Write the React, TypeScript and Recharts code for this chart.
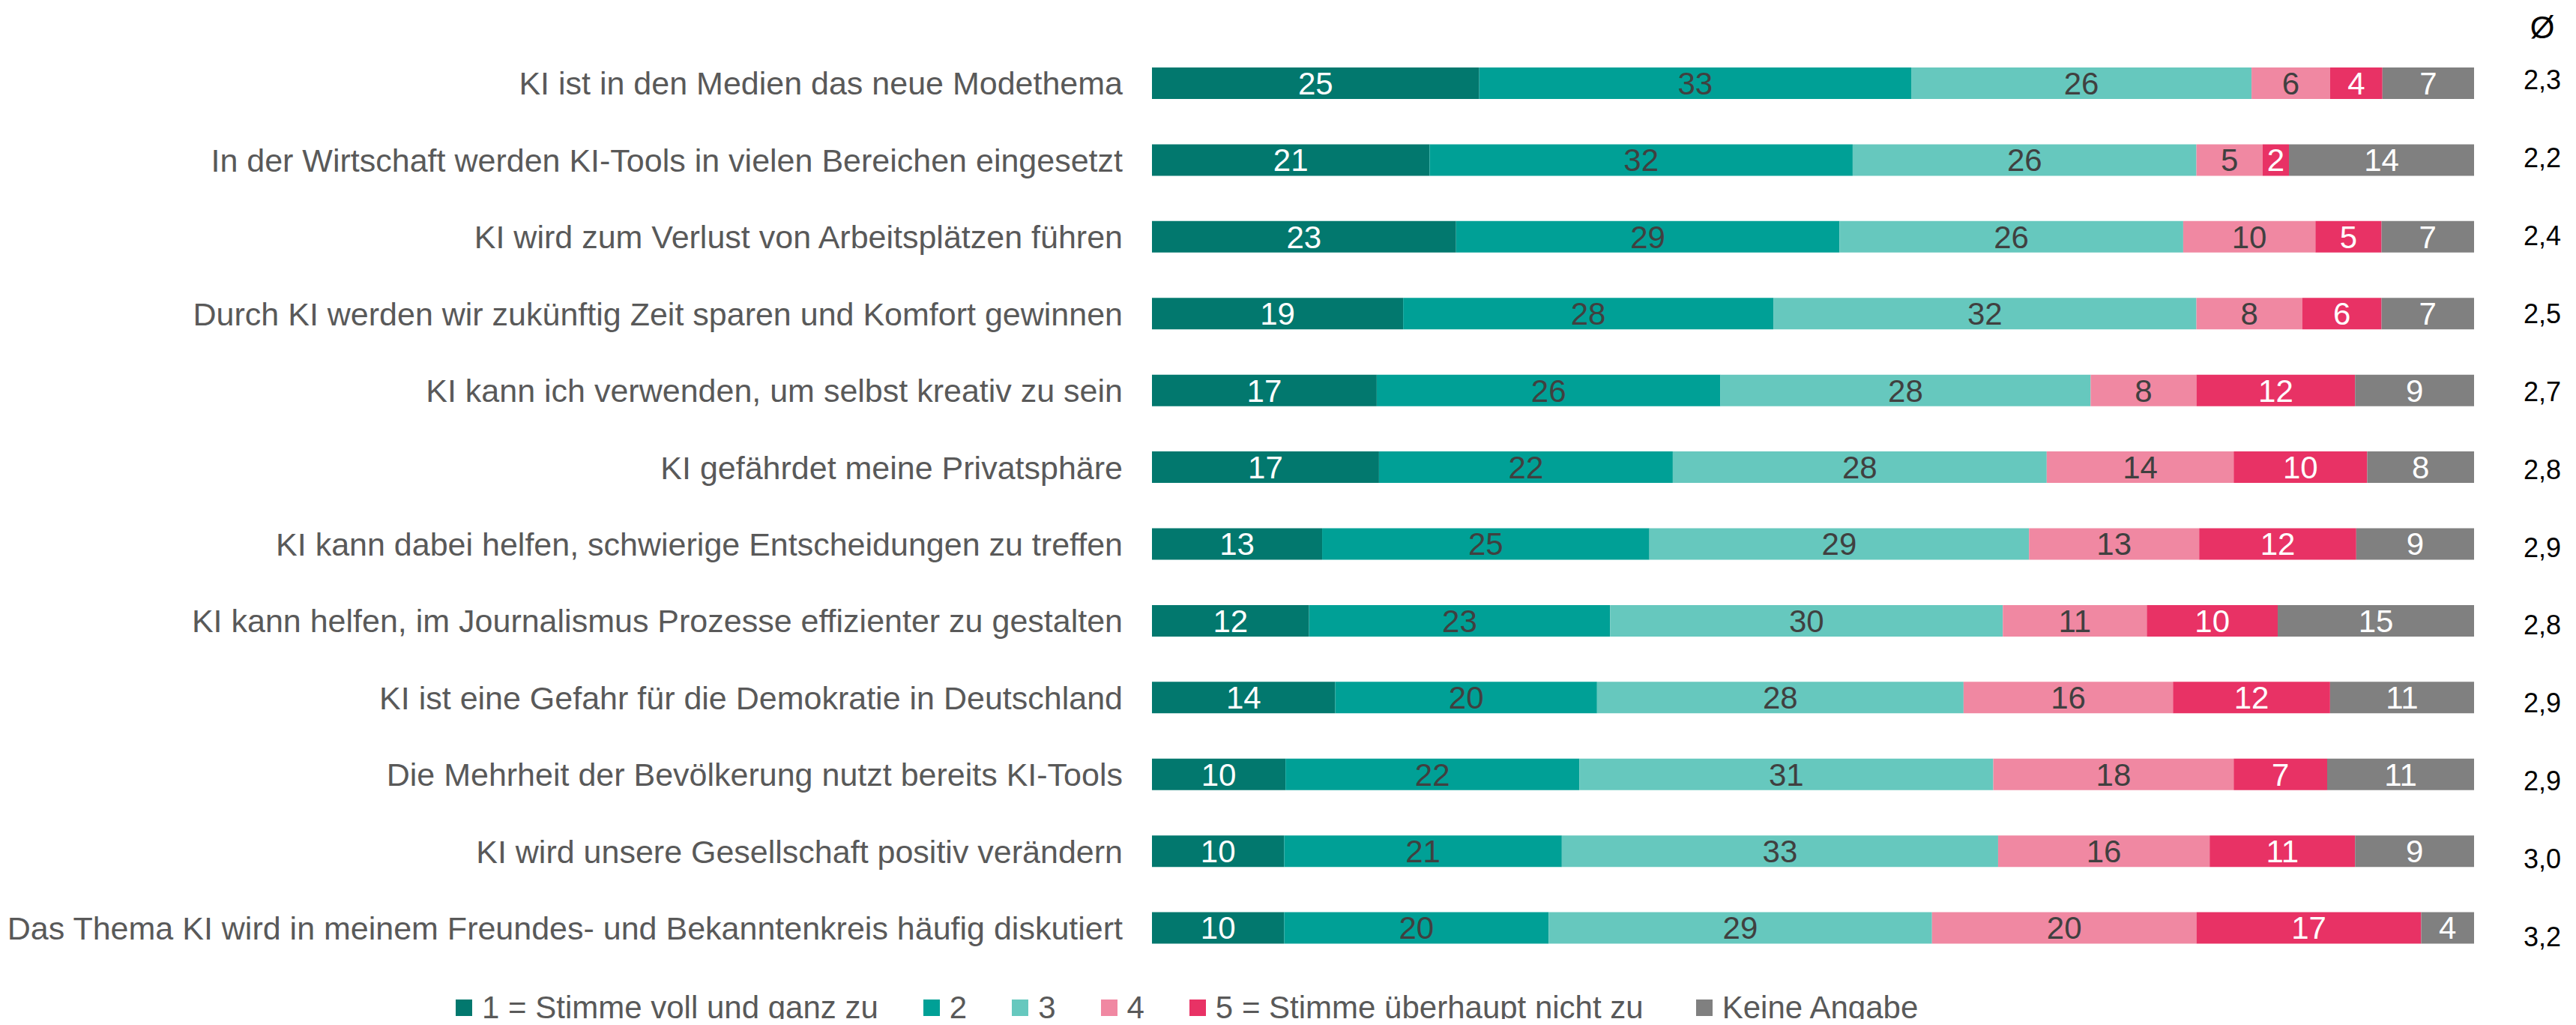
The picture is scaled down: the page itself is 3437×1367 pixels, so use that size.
import React from 'react';
import { BarChart, Bar, XAxis, YAxis, LabelList, Legend } from 'recharts';

const categories = [
  'KI ist in den Medien das neue Modethema',
  'In der Wirtschaft werden KI-Tools in vielen Bereichen eingesetzt',
  'KI wird zum Verlust von Arbeitsplätzen führen',
  'Durch KI werden wir zukünftig Zeit sparen und Komfort gewinnen',
  'KI kann ich verwenden, um selbst kreativ zu sein',
  'KI gefährdet meine Privatsphäre',
  'KI kann dabei helfen, schwierige Entscheidungen zu treffen',
  'KI kann helfen, im Journalismus Prozesse effizienter zu gestalten',
  'KI ist eine Gefahr für die Demokratie in Deutschland',
  'Die Mehrheit der Bevölkerung nutzt bereits KI-Tools',
  'KI wird unsere Gesellschaft positiv verändern',
  'Das Thema KI wird in meinem Freundes- und Bekanntenkreis häufig diskutiert',
];

const stimme1 = [25, 21, 23, 19, 17, 17, 13, 12, 14, 10, 10, 10];
const stimme2 = [33, 32, 29, 28, 26, 22, 25, 23, 20, 22, 21, 20];
const stimme3 = [26, 26, 26, 32, 28, 28, 29, 30, 28, 31, 33, 29];
const stimme4 = [6, 5, 10, 8, 8, 14, 13, 11, 16, 18, 16, 20];
const stimme5 = [4, 2, 5, 6, 12, 10, 12, 10, 12, 7, 11, 17];
const keineAngabe = [7, 14, 7, 7, 9, 8, 9, 15, 11, 11, 9, 4];
const averages = ['2,3', '2,2', '2,4', '2,5', '2,7', '2,8', '2,9', '2,8', '2,9', '2,9', '3,0', '3,2'];

const seriesKeys = ['s1', 's2', 's3', 's4', 's5', 'ka'];
const seriesNames = ['1 = Stimme voll und ganz zu', '2', '3', '4', '5 = Stimme überhaupt nicht zu', 'Keine Angabe'];
const seriesColors = ['#02786E', '#00A096', '#66C8BE', '#F088A2', '#E83265', '#808080'];
const labelColors = ['#FFFFFF', '#404040', '#404040', '#404040', '#FFFFFF', '#FFFFFF'];

const data = categories.map((label, i) => ({
  label,
  s1: stimme1[i],
  s2: stimme2[i],
  s3: stimme3[i],
  s4: stimme4[i],
  s5: stimme5[i],
  ka: keineAngabe[i],
  avg: averages[i],
}));

const FONT = '"Liberation Sans", Arial, Helvetica, sans-serif';

const AvgTick = (props: any) => {
  const { x, y, index } = props;
  return (
    <text x={x + 91} y={y + 7.5 + index * 1.55} textAnchor="middle" fontSize={36} fontFamily={FONT} fill="#000000">
      {averages[index]}
    </text>
  );
};

const AvgHeader = (props: any) => {
  const vb = props.viewBox || { x: 0, y: 0 };
  return (
    <text x={vb.x + 91} y={vb.y - 9} textAnchor="middle" fontSize={42} fontFamily={FONT} fill="#000000">
      Ø
    </text>
  );
};

const renderLegend = () => (
  <div style={{ display: 'flex', alignItems: 'center', fontFamily: FONT, fontSize: 42, color: '#595959', lineHeight: '50px', whiteSpace: 'nowrap' }}>
    {seriesNames.map((name, i) => (
      <div key={name} style={{ display: 'flex', alignItems: 'center', marginRight: i === 4 ? 70 : 60 }}>
        <span style={{ display: 'inline-block', width: 22, height: 22, background: seriesColors[i], marginRight: 13 }} />
        <span>{name}</span>
      </div>
    ))}
  </div>
);

export default function App() {
  return (
    <div style={{ margin: -8, width: 3437, height: 1367, background: '#ffffff', overflow: 'hidden' }}>
      <BarChart
        width={3437}
        height={1367}
        data={data}
        layout="vertical"
        stackOffset="expand"
        margin={{ top: 60, right: 0, bottom: 78, left: 0 }}
      >
        <XAxis type="number" hide domain={[0, 1]} />
        <YAxis
          yAxisId="left"
          type="category"
          dataKey="label"
          width={1537}
          axisLine={false}
          tickLine={false}
          tickSize={0}
          tickMargin={39}
          interval={0}
          tick={{ fill: '#595959', fontSize: 43, fontFamily: FONT }}
        />
        <YAxis
          yAxisId="right"
          orientation="right"
          type="category"
          dataKey="label"
          width={136}
          axisLine={false}
          tickLine={false}
          tickSize={0}
          tickMargin={0}
          interval={0}
          tick={<AvgTick />}
          label={<AvgHeader />}
        />
        <Legend
          layout="horizontal"
          verticalAlign="middle"
          align="center"
          content={renderLegend}
          wrapperStyle={{ top: 1319, left: 608, width: 'auto', height: 50 }}
        />
        {seriesKeys.map((key, i) => (
          <Bar
            key={key}
            dataKey={key}
            name={seriesNames[i]}
            stackId="a"
            yAxisId="left"
            fill={seriesColors[i]}
            barSize={42}
            isAnimationActive={false}
          >
            <LabelList dataKey={key} position="center" fill={labelColors[i]} fontSize={42} fontFamily={FONT} />
          </Bar>
        ))}
      </BarChart>
    </div>
  );
}
